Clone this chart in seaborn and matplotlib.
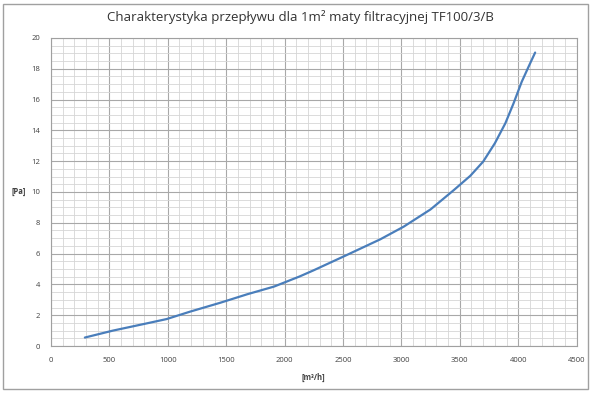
import numpy as np
import pandas as pd
import seaborn as sns
import matplotlib.pyplot as plt
from matplotlib.patches import Rectangle
from matplotlib.ticker import MultipleLocator

# flow [m3/h] vs pressure drop [Pa]
flow = [290, 530, 820, 990, 1190, 1450, 1680, 1910, 2130, 2250, 2530, 2820,
        3020, 3250, 3450, 3590, 3700, 3800, 3890, 3960, 4030, 4090, 4145]
pressure = [0.55, 1.0, 1.47, 1.75, 2.23, 2.81, 3.36, 3.86, 4.52, 4.92, 5.9, 6.93,
            7.75, 8.87, 10.13, 11.05, 11.97, 13.16, 14.46, 15.75, 17.15, 18.15, 19.05]

title = "Charakterystyka przepływu dla 1m² maty filtracyjnej TF100/3/B"
x_label = "[m³/h]"
y_label = "[Pa]"

df = pd.DataFrame({"flow": flow, "pressure": pressure})

sns.set_style("white")
plt.rcParams["font.family"] = ["Open Sans", "DejaVu Sans"]

fig = plt.figure(figsize=(6, 3.95), dpi=100)
ax = fig.add_axes([0.085, 0.124, 0.876, 0.780])

sns.lineplot(data=df, x="flow", y="pressure", ax=ax, color="#4a7ebb",
             linewidth=1.6, sort=False, solid_joinstyle="round", solid_capstyle="round")

ax.set_xlim(0, 4500)
ax.set_ylim(0, 20)
ax.xaxis.set_major_locator(MultipleLocator(500))
ax.xaxis.set_minor_locator(MultipleLocator(100))
ax.yaxis.set_major_locator(MultipleLocator(2))
ax.yaxis.set_minor_locator(MultipleLocator(0.5))

ax.grid(which="major", color="#a8a8a8", linewidth=0.8)
ax.grid(which="minor", color="#d6d6d6", linewidth=0.6)
ax.set_axisbelow(True)

for s in ax.spines.values():
    s.set_color("#a0a0a0")
    s.set_linewidth(0.8)

ax.tick_params(which="major", length=3, color="#a0a0a0", labelsize=5.5, labelcolor="#404040", pad=5)
ax.tick_params(which="minor", length=2, color="#d6d6d6")
ax.tick_params(axis="x", which="minor", length=0)

ax.set_xlabel(x_label, fontsize=5.5, fontweight="bold", color="#404040", labelpad=6)
ax.set_ylabel(y_label, fontsize=5.5, fontweight="bold", color="#404040", rotation=0, labelpad=9, va="center")

fig.text(0.5, 0.957, title, ha="center", va="center", fontsize=9.5, color="#333333")

fig.patches.append(Rectangle((0.005, 0.015), 0.975, 0.975, transform=fig.transFigure,
                             fill=False, edgecolor="#a0a0a0", linewidth=1.0))

fig.savefig("out.png", dpi=100)
